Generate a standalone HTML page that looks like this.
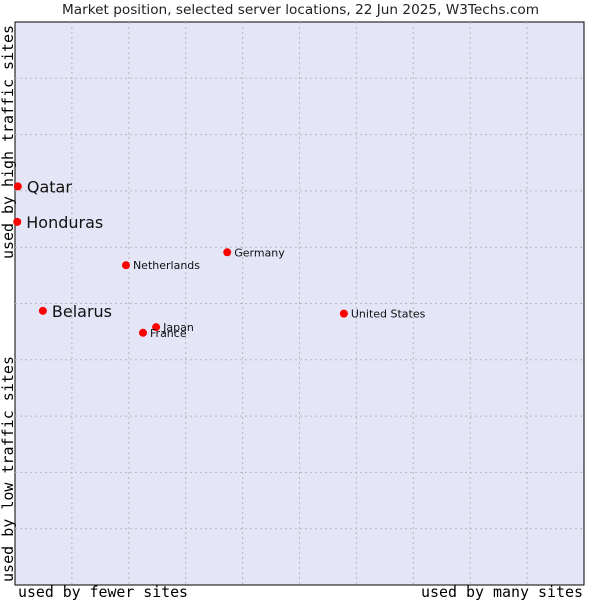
<!DOCTYPE html>
<html><head><meta charset="utf-8"><style>
body{margin:0;background:#fff;width:600px;height:600px;overflow:hidden}
svg{display:block}
text{font-family:"DejaVu Sans","Liberation Sans",sans-serif}
.m{font-family:"DejaVu Sans Mono",monospace}
</style></head><body>
<svg id="c" width="600" height="600">
<text x="62" y="14" textLength="477" lengthAdjust="spacingAndGlyphs" font-size="13" fill="#222">Market position, selected server locations, 22 Jun 2025, W3Techs.com</text>
<rect x="15" y="22" width="569" height="563" fill="#e4e5f7" stroke="#000" stroke-width="1"/>
<g id="grid"></g>
<g id="pts"></g>
<text class="m" x="18" y="597" textLength="170" lengthAdjust="spacingAndGlyphs" font-size="15" fill="#000">used by fewer sites</text>
<text class="m" x="421" y="597" textLength="162" lengthAdjust="spacingAndGlyphs" font-size="15" fill="#000">used by many sites</text>
<text class="m" transform="translate(13,259) rotate(-90)" textLength="234" lengthAdjust="spacingAndGlyphs" font-size="15" fill="#000">used by high traffic sites</text>
<text class="m" transform="translate(13,582) rotate(-90)" textLength="226" lengthAdjust="spacingAndGlyphs" font-size="15" fill="#000">used by low traffic sites</text>
</svg>
<script>
const countries=["Qatar","Honduras","Belarus","Netherlands","Germany","Japan","France","United States"];
const xValues=[0.5,0.4,4.9,19.5,37.3,24.8,22.5,57.8];
const yValues=[70.8,64.5,48.7,56.8,59.1,45.8,44.8,48.2];
const bigLabel=[true,true,true,false,false,false,false,false];
const X0=15,W=569,Y0=585,H=563;
const sx=v=>X0+v/100*W, sy=v=>Y0-v/100*H;
const NS="http://www.w3.org/2000/svg";
const grid=document.getElementById('grid');
for(let i=1;i<10;i++){
 const l=document.createElementNS(NS,'line');
 l.setAttribute('x1',sx(i*10));l.setAttribute('x2',sx(i*10));l.setAttribute('y1',22);l.setAttribute('y2',585);
 l.setAttribute('stroke','#b8b8b8');l.setAttribute('stroke-dasharray','2,3');
 
 
 grid.appendChild(l);
 const h=document.createElementNS(NS,'line');
 h.setAttribute('y1',sy(i*10));h.setAttribute('y2',sy(i*10));h.setAttribute('x1',15);h.setAttribute('x2',584);
 h.setAttribute('stroke','#b8b8b8');h.setAttribute('stroke-dasharray','2,3');
 
 
 grid.appendChild(h);
}
const pts=document.getElementById('pts');
countries.forEach((c,i)=>{
 const x=sx(xValues[i]),y=sy(yValues[i]);
 const d=document.createElementNS(NS,'circle');
 d.setAttribute('cx',x);d.setAttribute('cy',y);d.setAttribute('r',4);d.setAttribute('fill','#f00');
 
 
 pts.appendChild(d);
 const t=document.createElementNS(NS,'text');
 t.setAttribute('x',x+(bigLabel[i]?9:7));t.setAttribute('y',y+(bigLabel[i]?6:4));
 t.setAttribute('font-size',bigLabel[i]?16:11);t.setAttribute('fill','#111');
 t.textContent=c;
 
 
 pts.appendChild(t);
});
</script>
</body></html>
